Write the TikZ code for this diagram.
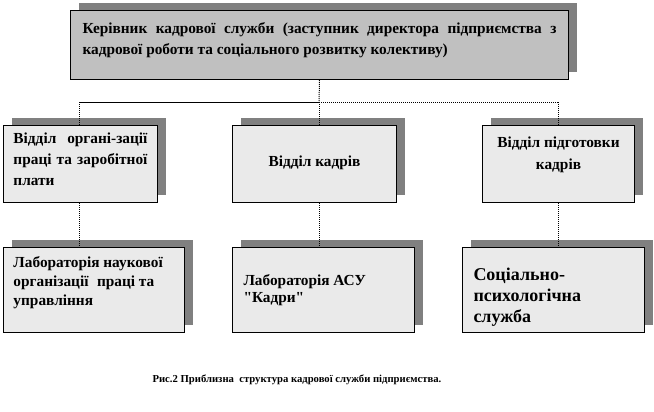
\documentclass[tikz,border=0pt]{standalone}
\usepackage{fontspec}
\setmainfont{Liberation Serif}
\usetikzlibrary{shadows}
\definecolor{shadowgray}{HTML}{808080}
\definecolor{topfill}{HTML}{C0C0C0}
\definecolor{boxfill}{HTML}{EAEAEA}
\newcommand\bxt[4]{\parbox[c][#2][t]{#1}{\vspace*{#3}#4}}
\newcommand\sq{\XeTeXglyph\XeTeXcharglyph"22\relax}
\tikzset{
 orgbox/.style={draw=black, line width=0.75pt, fill=boxfill, anchor=north west,
   inner xsep=7.5pt, inner ysep=0pt,
   font=\fontsize{11.5}{15.75}\selectfont\bfseries,
   drop shadow={shadow xshift=6pt, shadow yshift=6pt, fill=shadowgray, opacity=1}},
 link/.style={line width=0.75pt, dash pattern=on 0.75pt off 0.75pt},
 solidlink/.style={line width=0.75pt},
 caption/.style={font=\fontsize{8}{10}\selectfont\bfseries},
}
\begin{document}
\begin{tikzpicture}[x=0.75pt,y=-0.75pt]
\useasboundingbox (0,0) rectangle (654,411);
% top box
\node[orgbox, fill=topfill, inner xsep=9pt] (top) at (70,10)
  {\bxt{355.5pt}{51.75pt}{9pt}{Керівник кадрової служби (заступник директора підприємства з\linebreak кадрової роботи та соціального розвитку колективу)}};
% middle row
\node[orgbox] (m1) at (3,125)
  {\bxt{100.5pt}{57.75pt}{5.7pt}{Відділ органі-зації\linebreak праці та заробітної\linebreak плати}};
\node[orgbox] (m2) at (232,125)
  {\bxt{108pt}{57.75pt}{22.6pt}{\centering Відділ кадрів\par}};
\node[orgbox] (m3) at (482,125)
  {\bxt{99pt}{57.75pt}{8.3pt}{\centering\fontsize{11.5}{16.5}\selectfont Відділ підготовки\\ кадрів\par}};
% bottom row
\node[orgbox] (b1) at (3,247)
  {\bxt{120.75pt}{63.75pt}{6.5pt}{\raggedright\fontsize{11.5}{14.25}\selectfont Лабораторія наукової\\ організації\hspace{0.3em} праці та\\ управління\par}};
\node[orgbox, inner xsep=8.25pt] (b2) at (232,247)
  {\bxt{120pt}{63.75pt}{20.3pt}{\raggedright\fontsize{11.5}{13}\selectfont Лабораторія АСУ\\ \sq Кадри\sq\par}};
\node[orgbox, inner xsep=8.25pt] (b3) at (462,247)
  {\bxt{120pt}{63.75pt}{15.5pt}{\raggedright\fontsize{13.5}{15.75}\selectfont Соціально-\\ психологічна\\ служба\par}};
% caption
\node[caption] (cap) at (297,380) {Рис.2 Приблизна\hspace{0.25em} структура кадрової служби підприємства.};
% connectors
\coordinate (j1) at (79,102);
\coordinate (j2) at (319,102);
\coordinate (j3) at (558,102);
\draw[link] (top.south) -- (j2);
\draw[solidlink] (j1) -- (j2);
\draw[link] (j2) -- (j3);
\draw[link] (j1) -- (j1 |- m1.north);
\draw[link] (j2) -- (j2 |- m2.north);
\draw[link] (j3) -- (j3 |- m3.north);
\draw[link] (j1 |- m1.south) -- (j1 |- b1.north);
\draw[link] (j2 |- m2.south) -- (j2 |- b2.north);
\draw[link] (j3 |- m3.south) -- (j3 |- b3.north);
\end{tikzpicture}
\end{document}
